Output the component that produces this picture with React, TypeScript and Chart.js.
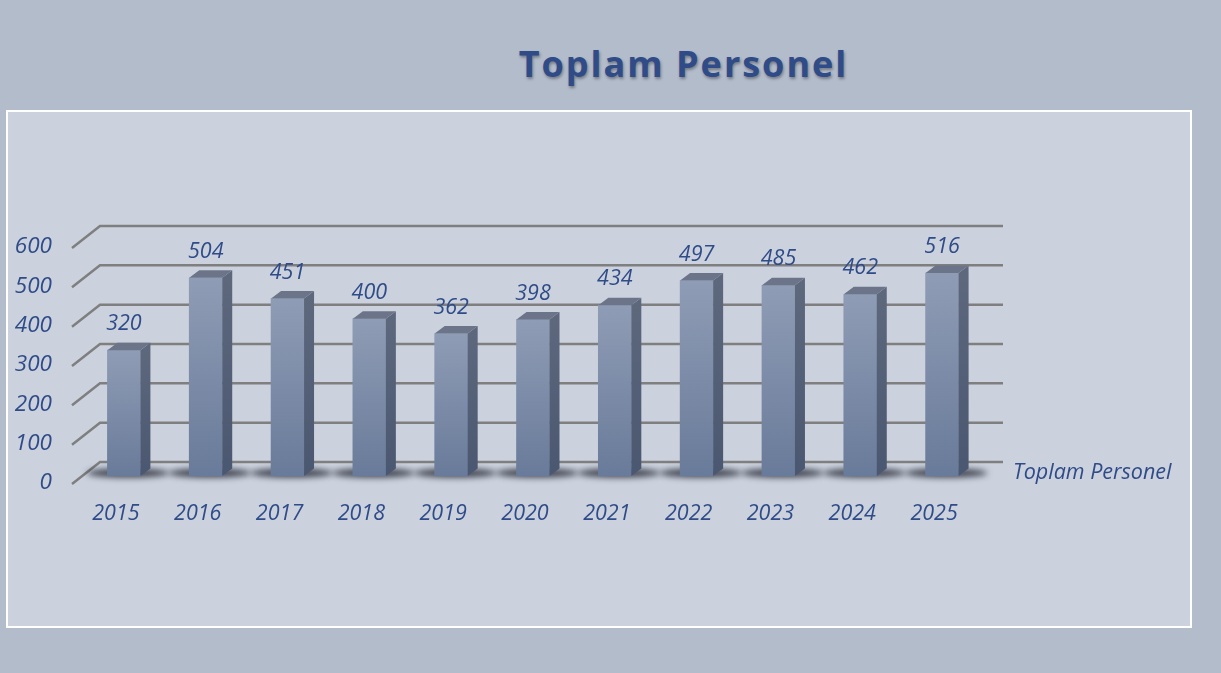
import React, { useEffect, useRef } from "react";
import { Chart, registerables } from "chart.js";

Chart.register(...registerables);

// ---- data ----
const chartTitle = "Toplam Personel";
const seriesName = "Toplam Personel";
const years = ["2015", "2016", "2017", "2018", "2019", "2020", "2021", "2022", "2023", "2024", "2025"];
const personnel = [320, 504, 451, 400, 362, 398, 434, 497, 485, 462, 516];
const yTicks = [0, 100, 200, 300, 400, 500, 600];

// ---- style ----
const TEXT = "#2F4B88";
const FONT = "'Open Sans', sans-serif";
const GRID = "#7F7F7F";
const DEPTH_X = 10;
const DEPTH_Y = 7.5;
const BACK_Y = 14;

const threeDPlugin = {
  id: "threeD",
  beforeDatasetsDraw(chart: any) {
    const { ctx, chartArea: ca, scales } = chart;
    const y = scales.y;
    ctx.save();
    ctx.strokeStyle = GRID;
    ctx.lineWidth = 2.5;
    for (const v of yTicks) {
      const by = y.getPixelForValue(v) - BACK_Y;
      ctx.beginPath();
      ctx.moveTo(ca.left - 11, by + 22);
      ctx.lineTo(ca.left + 17, by);
      ctx.lineTo(ca.right + 20, by);
      ctx.stroke();
    }
    const meta = chart.getDatasetMeta(0);
    meta.data.forEach((el: any) => {
      const p = el.getProps(["x", "base", "width"], true);
      ctx.save();
      ctx.filter = "blur(3px)";
      ctx.fillStyle = "rgba(40,44,55,0.85)";
      ctx.beginPath();
      ctx.ellipse(p.x + 4, p.base - 3, p.width * 1.25, 4.5, 0, 0, Math.PI * 2);
      ctx.fill();
      ctx.restore();
    });
    ctx.restore();
  },
  afterDatasetsDraw(chart: any) {
    const { ctx, chartArea: ca } = chart;
    const meta = chart.getDatasetMeta(0);
    const values = chart.data.datasets[0].data as number[];
    ctx.save();
    meta.data.forEach((el: any, i: number) => {
      const p = el.getProps(["x", "y", "base", "width"], true);
      const x1 = p.x - p.width / 2;
      const x2 = p.x + p.width / 2;
      const top = p.y;
      const bot = p.base;
      const gs = ctx.createLinearGradient(0, top, 0, bot);
      gs.addColorStop(0, "#5D687D");
      gs.addColorStop(1, "#4A5770");
      ctx.fillStyle = gs;
      ctx.beginPath();
      ctx.moveTo(x2, top);
      ctx.lineTo(x2 + DEPTH_X, top - DEPTH_Y);
      ctx.lineTo(x2 + DEPTH_X, bot - DEPTH_Y);
      ctx.lineTo(x2, bot);
      ctx.closePath();
      ctx.fill();
      ctx.fillStyle = "#6C7489";
      ctx.beginPath();
      ctx.moveTo(x1, top);
      ctx.lineTo(x2, top);
      ctx.lineTo(x2 + DEPTH_X, top - DEPTH_Y);
      ctx.lineTo(x1 + DEPTH_X, top - DEPTH_Y);
      ctx.closePath();
      ctx.fill();
      ctx.fillStyle = TEXT;
      ctx.font = "italic 21.5px " + FONT;
      ctx.textAlign = "center";
      ctx.textBaseline = "middle";
      ctx.fillText(String(values[i]), p.x, top - 26);
    });
    ctx.fillStyle = TEXT;
    ctx.font = "italic 21.5px " + FONT;
    ctx.textAlign = "left";
    ctx.textBaseline = "middle";
    ctx.fillText(chart.data.datasets[0].label, ca.right + 30, ca.bottom - 3);
    ctx.restore();
  },
};

export default function App() {
  const canvasRef = useRef<HTMLCanvasElement | null>(null);

  useEffect(() => {
    document.body.style.margin = "0";
    const canvas = canvasRef.current;
    if (!canvas) return;
    const chart = new Chart(canvas, {
      type: "bar",
      data: {
        labels: years,
        datasets: [
          {
            label: seriesName,
            data: personnel,
            barThickness: 33,
            borderWidth: 0,
            backgroundColor: (c: any) => {
              const ch = c.chart;
              const y = ch.scales && ch.scales.y;
              if (!ch.chartArea || !y || c.parsed == null) return "#7C8CA8";
              const top = y.getPixelForValue(c.parsed.y);
              const bot = y.getPixelForValue(0);
              const g = ch.ctx.createLinearGradient(0, top, 0, bot);
              g.addColorStop(0, "#8F9CB5");
              g.addColorStop(1, "#697B9A");
              return g;
            },
          },
        ],
      },
      options: {
        animation: false,
        responsive: false,
        maintainAspectRatio: false,
        devicePixelRatio: 1,
        layout: { padding: { left: 0, right: 238, top: 240, bottom: 137 } },
        plugins: {
          legend: { display: false },
          title: { display: false },
          tooltip: { enabled: false },
        },
        scales: {
          x: {
            grid: { display: false, drawTicks: false },
            border: { display: false },
            ticks: {
              color: TEXT,
              font: { family: FONT, size: 21.5, style: "italic" },
              padding: 25,
              labelOffset: -8,
              maxRotation: 0,
            },
            afterFit: (s: any) => {
              s.height = 60;
            },
          },
          y: {
            min: 0,
            max: 600,
            grid: { display: false, drawTicks: false },
            border: { display: false },
            ticks: {
              color: TEXT,
              font: { family: FONT, size: 22.5, style: "italic" },
              padding: 31,
              labelOffset: 7,
            },
            afterBuildTicks: (s: any) => {
              s.ticks = yTicks.map((v) => ({ value: v }));
            },
            afterFit: (s: any) => {
              s.width = 83;
            },
          },
        },
      },
      plugins: [threeDPlugin],
    });
    return () => chart.destroy();
  }, []);

  return (
    <div
      style={{
        position: "fixed",
        left: 0,
        top: 0,
        width: 1221,
        height: 673,
        background: "#B3BCCB",
        overflow: "hidden",
      }}
    >
      <div
        style={{
          position: "absolute",
          left: 6,
          top: 110,
          width: 1182,
          height: 514,
          border: "2px solid #FFFFFF",
          background: "#CBD2DE",
        }}
      />
      <div
        style={{
          position: "absolute",
          left: 0,
          top: 38,
          width: 1221,
          paddingLeft: 146,
          boxSizing: "border-box",
          textAlign: "center",
          fontFamily: FONT,
          fontWeight: 700,
          fontSize: 36,
          letterSpacing: 2,
          color: "#2F4B88",
          textShadow: "1px 2px 3px rgba(0,0,0,0.35)",
          lineHeight: "52px",
        }}
      >
        {chartTitle}
      </div>
      <canvas
        ref={canvasRef}
        width={1221}
        height={673}
        style={{ position: "absolute", left: 0, top: 0, width: 1221, height: 673 }}
      />
    </div>
  );
}
